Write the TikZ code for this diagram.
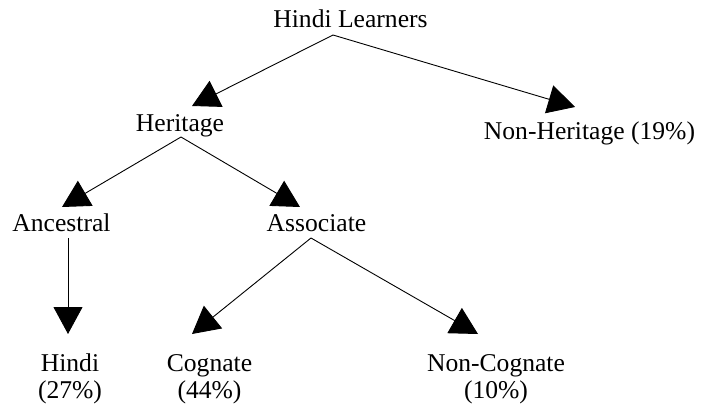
\documentclass[tikz,border=0pt]{standalone}
\usepackage{fontspec}
\setmainfont{Liberation Serif}
\usetikzlibrary{arrows.meta}
\begin{document}
\begin{tikzpicture}[x=1pt,y=-1pt,
  lbl/.style={inner sep=0pt, anchor=base, align=center,
    font=\fontsize{25.6pt}{27.5pt}\selectfont},
  arr/.style={line width=0.9pt, -{Triangle[length=27pt,width=29pt]}}]
\useasboundingbox[fill=white] (0,0) rectangle (701,404);
% nodes
\node[lbl] (hl)  at (350.5,28)  {Hindi Learners};
\node[lbl] (her) at (180,131)   {Heritage};
\node[lbl] (nh)  at (589.5,139) {Non-Heritage (19\%)};
\node[lbl] (anc) at (61.5,231.5) {Ancestral};
\node[lbl] (ass) at (316.5,231.5) {Associate};
\node[lbl] (hin) at (70,398.5)    {Hindi\\(27\%)};
\node[lbl] (cog) at (209.5,398.5) {Cognate\\(44\%)};
\node[lbl] (nco) at (496,398.5)   {Non-Cognate\\(10\%)};
% ports
\coordinate (hl-out)  at (333,35);
\coordinate (her-in)  at (192,106);
\coordinate (nh-in)   at (575,107);
\coordinate (her-out) at (181,137);
\coordinate (anc-in)  at (62,207);
\coordinate (ass-in)  at (300,207);
\coordinate (anc-out) at (68,238);
\coordinate (hin-in)  at (68,334);
\coordinate (ass-out) at (311,238);
\coordinate (cog-in)  at (192,334);
\coordinate (nco-in)  at (478,334);
% connectors
\draw[arr] (hl-out) -- (her-in);
\draw[arr] (hl-out) -- (nh-in);
\draw[arr] (her-out) -- (anc-in);
\draw[arr] (her-out) -- (ass-in);
\draw[arr] (anc-out) -- (hin-in);
\draw[arr] (ass-out) -- (cog-in);
\draw[arr] (ass-out) -- (nco-in);
\end{tikzpicture}
\end{document}
